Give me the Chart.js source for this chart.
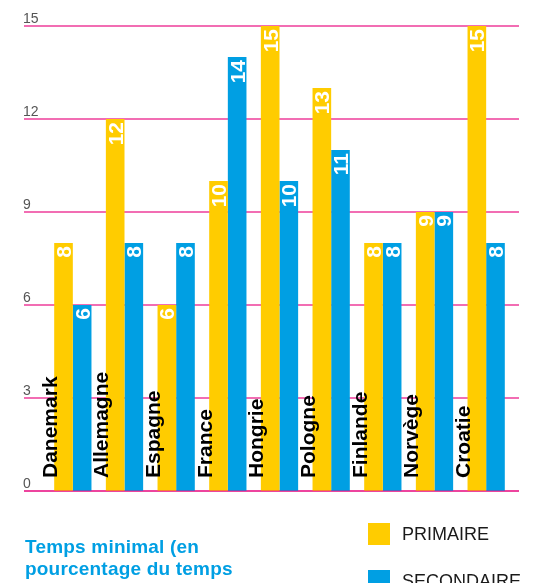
<!DOCTYPE html>
<html>
<head>
<meta charset="utf-8">
<script src="https://cdn.jsdelivr.net/npm/chart.js@4/dist/chart.umd.min.js"></script>
<style>
  html,body{margin:0;padding:0;background:#fff;}
  #wrap{position:relative;width:547px;height:583px;overflow:hidden;font-family:"Liberation Sans",Arial,sans-serif;}
  #c{position:absolute;left:0;top:0;}
  .title{position:absolute;left:25px;top:536px;color:#009fe3;font-weight:bold;font-size:19px;line-height:22px;letter-spacing:0.2px;}
  .lg{position:absolute;left:368px;width:22px;height:22px;}
  .lgt{position:absolute;left:402px;font-size:18px;color:#1a1a1a;white-space:nowrap;line-height:22px;}
</style>
</head>
<body>
<div id="wrap">
  <canvas id="c" width="547" height="583"></canvas>
  <div class="title">Temps minimal (en<br>pourcentage du temps</div>
  <div class="lg" style="top:523px;background:#ffcc00"></div>
  <div class="lgt" style="top:523px">PRIMAIRE</div>
  <div class="lg" style="top:570px;background:#009fe3"></div>
  <div class="lgt" style="top:570px">SECONDAIRE</div>
</div>
<script>
// Temps minimal - primaire / secondaire
const pays = ['Danemark','Allemagne','Espagne','France','Hongrie','Pologne','Finlande','Norvège','Croatie'];
const primaire   = [8, 12, 6, 10, 15, 13, 8, 9, 15];
const secondaire = [6, 8, 8, 14, 10, 11, 8, 9, 8];
const graduations = [0, 3, 6, 9, 12, 15];

const JAUNE = '#ffcc00', BLEU = '#009fe3', ROSE = '#ee3d9a';
const FONT = '"Liberation Sans", Arial, sans-serif';

// grille + graduations (derrière les barres)
const grille = {
    id:'grille',
    beforeDatasetsDraw(chart){
        const ctx = chart.ctx, y = chart.scales.y;
        ctx.save();
        ctx.strokeStyle = ROSE; ctx.lineWidth = 1.5;
        ctx.fillStyle = '#555'; ctx.font = '14px '+FONT;
        ctx.textAlign = 'left'; ctx.textBaseline = 'alphabetic';
        graduations.forEach(v=>{
            const py = y.getPixelForValue(v);
            ctx.beginPath(); ctx.moveTo(24, py); ctx.lineTo(519, py); ctx.stroke();
            ctx.fillText(String(v), 23, py - 3);
        });
        ctx.restore();
    },
    afterDatasetsDraw(chart){
        const ctx = chart.ctx;
        ctx.save();
        // ligne du zéro par-dessus
        const py = chart.scales.y.getPixelForValue(0);
        ctx.strokeStyle = 'rgba(230,0,126,0.5)'; ctx.lineWidth = 1.5;
        ctx.beginPath(); ctx.moveTo(24, py); ctx.lineTo(519, py); ctx.stroke();

        // valeurs dans les barres
        ctx.fillStyle = '#fff'; ctx.font = 'bold 21px '+FONT;
        ctx.textAlign = 'right'; ctx.textBaseline = 'alphabetic';
        chart.data.datasets.forEach((ds,di)=>{
            chart.getDatasetMeta(di).data.forEach((bar,i)=>{
                ctx.save();
                ctx.translate(bar.x + 7.5, bar.y + 3);
                ctx.rotate(-Math.PI/2);
                ctx.fillText(String(ds.data[i]), 0, 0);
                ctx.restore();
            });
        });

        // noms des pays
        ctx.fillStyle = '#000'; ctx.textAlign = 'left';
        const metaP = chart.getDatasetMeta(0).data;
        metaP.forEach((bar,i)=>{
            const left = bar.x - bar.width/2;
            ctx.save();
            ctx.translate(left + 2.5, 478);
            ctx.rotate(-Math.PI/2);
            ctx.fillText(pays[i], 0, 0);
            ctx.restore();
        });
        ctx.restore();
    }
};

new Chart(document.getElementById('c'), {
    type:'bar',
    data:{
        labels: pays,
        datasets:[
            {label:'PRIMAIRE', data: primaire, backgroundColor: JAUNE},
            {label:'SECONDAIRE', data: secondaire, backgroundColor: BLEU}
        ]
    },
    options:{
        responsive:false, animation:false,
        layout:{padding:{left:47, right:35, top:26, bottom:92}},
        categoryPercentage:0.7215, barPercentage:1.0,
        scales:{
            x:{display:false},
            y:{display:false, min:0, max:15}
        },
        plugins:{legend:{display:false}, tooltip:{enabled:false}}
    },
    plugins:[grille]
});
</script>
</body>
</html>
